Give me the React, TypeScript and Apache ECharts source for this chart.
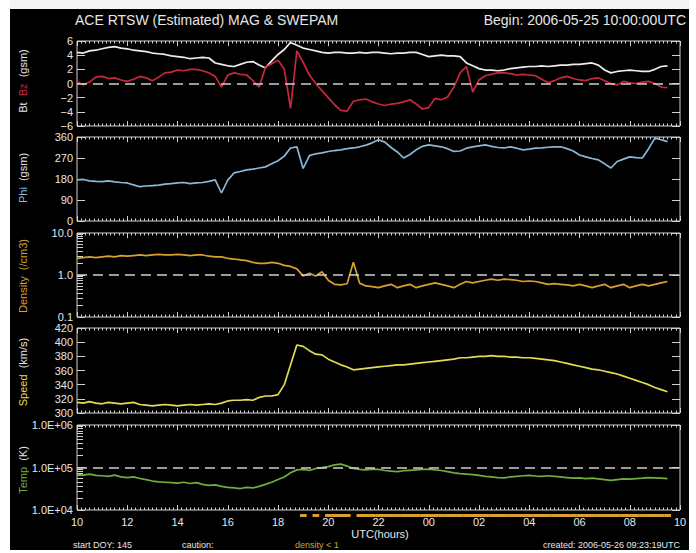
import React, { useEffect, useRef } from "react";
import * as echarts from "echarts";

// Hours elapsed since 2006-05-25 10:00 UTC (15-minute samples)
const STEP_HOURS = 0.25;

const BT = [4.4, 4.3, 4.6, 4.7, 4.9, 5.1, 5.2, 5.0, 4.9, 4.7, 4.6, 4.5, 4.3, 4.2, 4.1, 3.9, 3.8, 3.7, 3.5, 3.6, 3.7, 3.6, 2.9, 2.7, 2.5, 2.4, 2.7, 3.0, 3.1, 2.6, 2.2, 3.2, 4.1, 4.8, 5.8, 5.4, 5.0, 4.8, 4.6, 4.4, 4.3, 4.4, 4.4, 4.3, 4.3, 4.4, 4.3, 4.4, 4.4, 4.3, 4.2, 4.3, 4.3, 4.4, 4.4, 4.1, 3.8, 3.9, 4.0, 3.9, 3.9, 3.8, 2.9, 2.5, 2.1, 1.9, 1.9, 1.8, 1.9, 2.1, 2.2, 2.3, 2.4, 2.4, 2.5, 2.4, 2.5, 2.6, 2.6, 2.7, 2.7, 2.8, 2.9, 2.6, 1.9, 1.5, 1.7, 1.8, 1.9, 1.8, 1.7, 1.7, 2.0, 2.4, 2.5];

const BZ = [0.3, -0.2, 0.2, 0.9, 1.0, 0.7, 0.8, 0.5, 0.3, 0.6, 1.0, 0.8, 0.4, 0.9, 1.5, 1.6, 1.9, 1.8, 2.0, 2.0, 1.8, 1.5, 1.0, -0.5, 1.2, 1.5, 1.3, 1.2, 0.4, -0.5, 2.3, 2.8, 3.3, 2.0, -3.5, 4.6, 3.0, 1.2, 0.0, -1.0, -2.0, -3.0, -3.8, -3.9, -2.5, -2.3, -2.2, -2.6, -2.9, -3.1, -2.9, -2.8, -2.6, -2.3, -2.9, -3.6, -3.4, -2.1, -2.3, -1.9, -0.5, 1.5, 2.4, -1.2, 0.5, 1.1, 1.3, 1.5, 1.5, 1.4, 1.2, 1.3, 1.2, 1.1, 0.6, 0.1, 0.4, 0.8, 1.0, 0.7, 0.5, 0.4, 0.7, 0.8, 0.4, 0.0, -0.2, 0.3, 0.1, 0.0, 0.2, 0.3, 0.0, -0.5, -0.6];

const PHI = [176, 178, 172, 170, 169, 172, 168, 165, 163, 155, 147, 150, 152, 154, 158, 160, 163, 165, 160, 163, 165, 170, 176, 120, 175, 206, 212, 219, 222, 227, 232, 245, 258, 278, 313, 318, 225, 280, 288, 292, 298, 302, 305, 310, 313, 318, 325, 335, 348, 338, 315, 296, 270, 285, 305, 320, 326, 322, 318, 310, 298, 300, 312, 318, 322, 326, 320, 315, 313, 318, 312, 305, 308, 312, 313, 316, 318, 318, 310, 300, 283, 275, 268, 262, 245, 227, 255, 265, 275, 272, 270, 310, 355, 348, 340];

const DENSITY = [2.5, 2.6, 2.7, 2.6, 2.7, 2.8, 2.7, 2.9, 2.8, 2.9, 3.0, 2.9, 3.0, 3.1, 3.0, 3.0, 3.1, 3.0, 2.9, 3.0, 3.0, 2.8, 2.7, 2.7, 2.5, 2.4, 2.3, 2.2, 2.0, 1.9, 1.9, 2.0, 1.9, 1.7, 1.6, 1.4, 0.95, 1.1, 0.95, 1.2, 0.75, 0.6, 0.58, 0.62, 2.0, 0.64, 0.55, 0.53, 0.5, 0.55, 0.6, 0.5, 0.55, 0.6, 0.5, 0.55, 0.6, 0.65, 0.6, 0.55, 0.5, 0.6, 0.7, 0.65, 0.7, 0.75, 0.8, 0.75, 0.8, 0.78, 0.75, 0.7, 0.72, 0.7, 0.65, 0.6, 0.62, 0.6, 0.58, 0.55, 0.6, 0.55, 0.5, 0.55, 0.6, 0.5, 0.55, 0.6, 0.5, 0.55, 0.6, 0.55, 0.6, 0.65, 0.7];

const SPEED = [315, 314, 316, 314, 313, 315, 314, 313, 314, 315, 312, 311, 310, 311, 312, 311, 310, 311, 312, 311, 312, 313, 312, 314, 317, 318, 318, 319, 318, 322, 324, 324, 326, 340, 368, 396, 394, 388, 383, 382, 376, 372, 368, 365, 361, 362, 363, 364, 365, 366, 367, 368, 368, 369, 370, 371, 372, 373, 374, 375, 376, 378, 378, 379, 380, 380, 381, 380, 380, 379, 379, 378, 378, 377, 376, 375, 374, 372, 370, 368, 366, 364, 362, 361, 359, 357, 355, 352, 349, 346, 343, 340, 336, 333, 330];

const TEMP = [68000, 66000, 70000, 65000, 64000, 62000, 66000, 60000, 58000, 60000, 55000, 52000, 48000, 46000, 45000, 44000, 43000, 45000, 42000, 44000, 40000, 38000, 39000, 36000, 34000, 33000, 32000, 34000, 33000, 36000, 40000, 45000, 52000, 60000, 75000, 88000, 90000, 85000, 95000, 100000, 105000, 115000, 120000, 108000, 95000, 90000, 88000, 92000, 90000, 85000, 82000, 80000, 84000, 86000, 88000, 90000, 92000, 88000, 85000, 80000, 75000, 72000, 70000, 68000, 65000, 62000, 60000, 58000, 57000, 60000, 62000, 64000, 65000, 63000, 62000, 64000, 62000, 60000, 58000, 56000, 57000, 55000, 56000, 54000, 52000, 50000, 52000, 54000, 53000, 55000, 56000, 58000, 57000, 56000, 55000];

const SPEED_TICKS = [300, 420, 20];
const BT_RANGE = [-6, 6, 2];
const PHI_RANGE = [0, 360, 90];
const DENSITY_RANGE = [0.1, 10];
const TEMP_RANGE = [1e4, 1e6];
const DENSITY_CAUTION = 1;

const FRAME = "#d0d0d0";
const LABEL = "#e6e6e6";
const FONT = "Liberation Sans";

const C_BT = "#ececec";
const C_BZ = "#c8283c";
const C_PHI = "#8ab8d8";
const C_DEN = "#d9a030";
const C_SPD = "#e2dc52";
const C_TEMP = "#6fae3e";

const pair = (arr: number[]) => arr.map((v, i) => [i * STEP_HOURS, v]);

const GRIDS = [
  { top: 41, height: 85 },
  { top: 137, height: 84 },
  { top: 233, height: 84 },
  { top: 328, height: 85 },
  { top: 425, height: 85 },
];

function buildOption() {
  const grid: any[] = GRIDS.map((g) => ({
    left: 77,
    right: 16,
    top: g.top,
    height: g.height,
    show: true,
    borderColor: FRAME,
    borderWidth: 1,
    backgroundColor: "transparent",
    outerBoundsMode: "none",
  }));

  const xAxis: any[] = [];
  GRIDS.forEach((_, i) => {
    const base = {
      type: "value",
      gridIndex: i,
      min: 0,
      max: 24,
      interval: 2,
      axisLine: { show: false, onZero: false },
      axisTick: { show: true, inside: true, length: 5, lineStyle: { color: FRAME } },
      minorTick: { show: true, splitNumber: 12, length: 2.5, lineStyle: { color: FRAME } },
      splitLine: { show: false },
    };
    xAxis.push({
      ...base,
      position: "bottom",
      axisLabel: {
        show: i === GRIDS.length - 1,
        color: LABEL,
        fontFamily: FONT,
        fontSize: 11,
        margin: 6,
        formatter: (v: number) => String((10 + v) % 24).padStart(2, "0"),
      },
    });
    xAxis.push({ ...base, position: "top", axisLabel: { show: false } });
  });

  const yLin = (i: number, r: number[], fmt?: (v: number) => string) => {
    const base = {
      type: "value",
      gridIndex: i,
      min: r[0],
      max: r[1],
      interval: r[2],
      axisLine: { show: false, onZero: false },
      axisTick: { show: true, inside: true, length: 8, lineStyle: { color: FRAME } },
      splitLine: { show: false },
    };
    return [
      {
        ...base,
        position: "left",
        axisLabel: { color: LABEL, fontFamily: FONT, fontSize: 11, margin: 4, formatter: fmt },
      },
      { ...base, position: "right", axisLabel: { show: false } },
    ];
  };
  const yLog = (i: number, r: number[], fmt: (v: number) => string) => {
    const base = {
      type: "log",
      logBase: 10,
      gridIndex: i,
      min: r[0],
      max: r[1],
      axisLine: { show: false, onZero: false },
      axisTick: { show: true, inside: true, length: 8, lineStyle: { color: FRAME } },
      minorTick: { show: true, splitNumber: 10, length: 6, lineStyle: { color: FRAME } },
      splitLine: { show: false },
    };
    return [
      {
        ...base,
        position: "left",
        axisLabel: { color: LABEL, fontFamily: FONT, fontSize: 11, margin: 4, formatter: fmt },
      },
      { ...base, position: "right", minorTick: { show: false }, axisLabel: { show: false } },
    ];
  };

  const yAxis: any[] = [
    ...yLin(0, BT_RANGE, (v) => (v < 0 ? "\u2212" + Math.abs(v) : String(v))),
    ...yLin(1, PHI_RANGE),
    ...yLog(2, DENSITY_RANGE, (v) => v.toFixed(1)),
    ...yLin(3, SPEED_TICKS),
    ...yLog(4, TEMP_RANGE, (v) => "1.0E+0" + Math.round(Math.log10(v))),
  ];

  const dashed = (val: number) => ({
    symbol: "none",
    silent: true,
    label: { show: false },
    lineStyle: { color: "#cfcfcf", type: [10, 6], width: 1.5 },
    data: [{ yAxis: val }],
  });

  const line = (name: string, data: number[], idx: number, color: string, extra: any = {}) => ({
    name,
    type: "line",
    xAxisIndex: idx * 2,
    yAxisIndex: idx * 2,
    data: pair(data),
    showSymbol: false,
    lineStyle: { color, width: 1.7 },
    itemStyle: { color },
    z: 3,
    ...extra,
  });

  // hours where density < 1: marked in a strip just under the time axis
  const lowDensity = DENSITY.map((v, i) => [i * STEP_HOURS, v])
    .filter((d) => d[1] < DENSITY_CAUTION)
    .map((d) => [d[0], TEMP_RANGE[0]]);

  const series: any[] = [
    line("Bt", BT, 0, C_BT),
    line("Bz", BZ, 0, C_BZ, { markLine: dashed(0), z: 4 }),
    line("Phi", PHI, 1, C_PHI),
    line("Density", DENSITY, 2, C_DEN, { markLine: dashed(1) }),
    line("Speed", SPEED, 3, C_SPD),
    line("Temp", TEMP, 4, C_TEMP, { markLine: dashed(1e5) }),
    {
      name: "density < 1",
      type: "custom",
      xAxisIndex: 8,
      yAxisIndex: 8,
      clip: false,
      data: lowDensity,
      renderItem: (params: any, api: any) => {
        const x = api.value(0);
        const p0 = api.coord([x - STEP_HOURS / 2, TEMP_RANGE[0]]);
        const p1 = api.coord([x + STEP_HOURS / 2, TEMP_RANGE[0]]);
        return {
          type: "rect",
          shape: { x: p0[0], y: p0[1] + 4, width: p1[0] - p0[0] + 0.4, height: 3 },
          style: { fill: C_DEN },
        };
      },
    },
  ];

  const vText = (x: number, y: number, text: string, rich: any) => ({
    type: "text",
    x,
    y,
    rotation: Math.PI / 2,
    style: {
      text,
      rich,
      fill: LABEL,
      font: `11px ${FONT}`,
      align: "center",
      verticalAlign: "middle",
    },
  });
  const rs = (c: string) => ({ fill: c, fontSize: 11, fontFamily: FONT });

  const graphic: any[] = [
    // page margins around the black plot sheet
    { type: "rect", shape: { x: 0, y: 0, width: 696, height: 9 }, style: { fill: "#f4f4f4" } },
    { type: "rect", shape: { x: 0, y: 0, width: 10, height: 553 }, style: { fill: "#ffffff" } },
    { type: "rect", shape: { x: 689, y: 0, width: 7, height: 553 }, style: { fill: "#ffffff" } },
    { type: "rect", shape: { x: 0, y: 550, width: 696, height: 3 }, style: { fill: "#ffffff" } },
    {
      type: "text",
      x: 75,
      y: 20,
      style: { text: "ACE RTSW (Estimated) MAG & SWEPAM", fill: LABEL, font: `14px ${FONT}`, verticalAlign: "middle" },
    },
    {
      type: "text",
      x: 686,
      y: 20,
      style: { text: "Begin: 2006-05-25 10:00:00UTC", fill: LABEL, font: `14px ${FONT}`, align: "right", verticalAlign: "middle" },
    },
    vText(23, 81, "{w|Bt}  {r|Bz}  {w|(gsm)}", { w: rs(LABEL), r: rs(C_BZ) }),
    vText(23, 178, "{b|Phi}  {w|(gsm)}", { w: rs(LABEL), b: rs(C_PHI) }),
    vText(23, 276, "{d|Density}  {d|(/cm3)}", { d: rs(C_DEN) }),
    vText(23, 372, "{s|Speed}  {w|(km/s)}", { w: rs(LABEL), s: rs(C_SPD) }),
    vText(23, 470, "{t|Temp}  {w|(K)}", { w: rs(LABEL), t: rs(C_TEMP) }),
    {
      type: "text",
      x: 380,
      y: 534,
      style: { text: "UTC(hours)", fill: LABEL, font: `11px ${FONT}`, align: "center", verticalAlign: "middle" },
    },
    {
      type: "text",
      x: 73,
      y: 545,
      style: { text: "start DOY: 145", fill: LABEL, font: `9px ${FONT}`, verticalAlign: "middle" },
    },
    {
      type: "text",
      x: 182,
      y: 545,
      style: { text: "caution:", fill: LABEL, font: `9px ${FONT}`, verticalAlign: "middle" },
    },
    {
      type: "text",
      x: 295,
      y: 545,
      style: { text: "density < 1", fill: C_DEN, font: `9px ${FONT}`, verticalAlign: "middle" },
    },
    {
      type: "text",
      x: 680,
      y: 545,
      style: { text: "created: 2006-05-26 09:23:19UTC", fill: LABEL, font: `9px ${FONT}`, align: "right", verticalAlign: "middle" },
    },
  ];

  return {
    animation: false,
    backgroundColor: "#000000",
    grid,
    xAxis,
    yAxis,
    series,
    graphic,
  };
}

export default function App() {
  const ref = useRef<HTMLDivElement>(null);
  useEffect(() => {
    if (!ref.current) return;
    const chart = echarts.init(ref.current, null, { renderer: "svg" });
    chart.setOption(buildOption() as any);
    return () => chart.dispose();
  }, []);
  return (
    <div
      ref={ref}
      style={{ position: "fixed", left: 0, top: 0, width: 696, height: 553 }}
    />
  );
}
